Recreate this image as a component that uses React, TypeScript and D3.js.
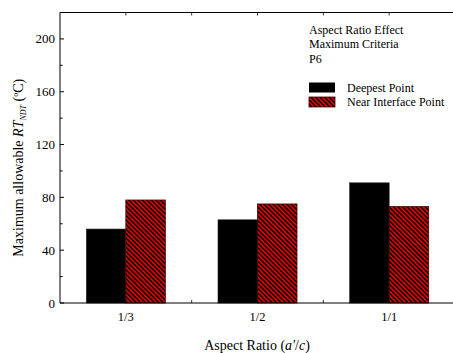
import React from 'react';
import * as d3 from 'd3';

const categories = ['1/3', '1/2', '1/1'];
const deepest = [56, 63, 91];
const nearInterface = [78, 75, 73];
const yTicks = [0, 40, 80, 120, 160, 200];
const yMinor = [20, 60, 100, 140, 180, 220];
const notes = ['Aspect Ratio Effect', 'Maximum Criteria', 'P6'];

const width = 453;
const height = 353;
const margin = { top: 12.5, right: -2, bottom: 50, left: 60 };
const serif = { fontFamily: "'Liberation Serif', 'Tinos', 'DejaVu Serif', serif" };

export default function App() {
  const x = d3.scaleLinear().domain([0.5, 3.5]).range([margin.left, width - margin.right]);
  const y = d3.scaleLinear().domain([0, 220]).range([height - margin.bottom, margin.top]);
  const barW = x(1.3) - x(1);
  const y0 = y(0);
  const xTicks = [1, 1.5, 2, 2.5, 3];

  return (
    <svg width={width} height={height} style={{ position: 'absolute', left: 0, top: 0, background: '#fff' }}>
      <defs>
        <pattern id="hatch" patternUnits="userSpaceOnUse" width={3.2} height={10} patternTransform="rotate(-45)">
          <rect width={3.2} height={10} fill="#e00000" />
          <rect width={1.5} height={10} fill="#000" />
        </pattern>
      </defs>

      {/* bars */}
      {categories.map((c, i) => (
        <g key={c}>
          <rect x={x(i + 1) - barW} y={y(deepest[i])} width={barW} height={y0 - y(deepest[i])} fill="#000" stroke="#222" strokeWidth={0.6} />
          <rect x={x(i + 1)} y={y(nearInterface[i])} width={barW} height={y0 - y(nearInterface[i])} fill="url(#hatch)" stroke="#400" strokeWidth={0.8} />
        </g>
      ))}

      {/* frame */}
      <line x1={margin.left} x2={width} y1={margin.top} y2={margin.top} stroke="#000" strokeWidth={1} />
      <line x1={margin.left} x2={width} y1={y0} y2={y0} stroke="#000" strokeWidth={1.2} />
      <line x1={margin.left} x2={margin.left} y1={margin.top} y2={y0} stroke="#000" strokeWidth={1} />

      <g style={serif}>
        {/* y ticks */}
        {yTicks.map(t => (
          <g key={t}>
            <line x1={margin.left} x2={margin.left + 4} y1={y(t)} y2={y(t)} stroke="#000" />
            <text x={margin.left - 5} y={y(t)} dy="0.35em" textAnchor="end" fontSize={13}>{t}</text>
          </g>
        ))}
        {yMinor.map(t => (
          <line key={t} x1={margin.left} x2={margin.left + 2.5} y1={y(t)} y2={y(t)} stroke="#000" />
        ))}

        {/* x ticks */}
        {xTicks.map(t => (
          <g key={t}>
            <line x1={x(t)} x2={x(t)} y1={y0} y2={y0 - 3} stroke="#000" strokeWidth={0.8} />
            <line x1={x(t)} x2={x(t)} y1={margin.top} y2={margin.top + 3} stroke="#000" strokeWidth={0.8} />
          </g>
        ))}
        {categories.map((c, i) => (
          <text key={c} x={x(i + 1)} y={y0 + 18} textAnchor="middle" fontSize={12.5}>{c}</text>
        ))}

        {/* axis titles */}
        <text x={257} y={350} textAnchor="middle" fontSize={14}>
          Aspect Ratio (<tspan fontStyle="italic">a'</tspan>/<tspan fontStyle="italic">c</tspan>)
        </text>
        <text transform={`translate(23,${(margin.top + y0) / 2 + 10}) rotate(-90)`} textAnchor="middle" fontSize={14}>
          Maximum allowable <tspan fontStyle="italic">RT</tspan>
          <tspan fontStyle="italic" fontSize={8} dy={3}>NDT</tspan>
          <tspan dy={-3}> (</tspan>
          <tspan fontSize={8} dy={-5}>o</tspan>
          <tspan dy={5}>C)</tspan>
        </text>

        {/* annotation */}
        {notes.map((n, i) => (
          <text key={n} x={309} y={33.5 + i * 14.5} fontSize={12}>{n}</text>
        ))}

        {/* legend */}
        <rect x={309} y={82.5} width={26} height={10} fill="#000" />
        <text x={347} y={92} fontSize={12}>Deepest Point</text>
        <rect x={309} y={97} width={26} height={10} fill="url(#hatch)" stroke="#400" strokeWidth={0.8} />
        <text x={347} y={106} fontSize={12}>Near Interface Point</text>
      </g>
    </svg>
  );
}
